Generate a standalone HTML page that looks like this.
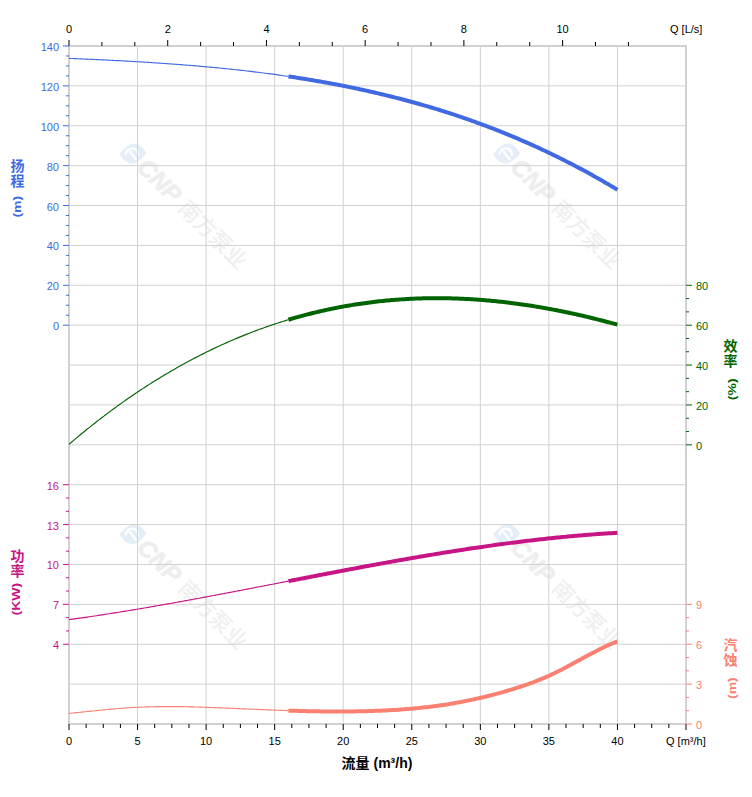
<!DOCTYPE html>
<html lang="zh"><head><meta charset="utf-8"><title>Pump curve</title><style>html,body{margin:0;padding:0;background:#fff}svg{display:block}</style></head><body>
<svg width="752" height="797" viewBox="0 0 752 797" font-family="Liberation Sans, Noto Sans CJK SC, sans-serif">
<rect width="752" height="797" fill="#fff"/>
<g transform="translate(133,153.6)"><path d="M-13.5 0.3 Q-5 -10 1 -10 Q8 -10 13.5 -0.3 Q5 10 -1 10 Q-8 10 -13.5 0.3Z" fill="#E4EEF8"/><path d="M-7.2 0.2 C-6 -6.5 4.5 -8 5.2 1.2 M-3 -1.8 L2.9 5.4" fill="none" stroke="#fff" stroke-width="2.4" stroke-linecap="round"/><g transform="rotate(45)"><text x="12.5" y="8.6" font-size="24" font-weight="bold" font-style="italic" fill="#EEEEEE" stroke="#EEEEEE" stroke-width="0.7" stroke-linejoin="round">CNP</text><text x="70.4" y="8.2" font-size="21.6" fill="#EFEFEF" font-weight="500">南方泵业</text></g></g>
<g transform="translate(506.6,153.6)"><path d="M-13.5 0.3 Q-5 -10 1 -10 Q8 -10 13.5 -0.3 Q5 10 -1 10 Q-8 10 -13.5 0.3Z" fill="#E4EEF8"/><path d="M-7.2 0.2 C-6 -6.5 4.5 -8 5.2 1.2 M-3 -1.8 L2.9 5.4" fill="none" stroke="#fff" stroke-width="2.4" stroke-linecap="round"/><g transform="rotate(45)"><text x="12.5" y="8.6" font-size="24" font-weight="bold" font-style="italic" fill="#EEEEEE" stroke="#EEEEEE" stroke-width="0.7" stroke-linejoin="round">CNP</text><text x="70.4" y="8.2" font-size="21.6" fill="#EFEFEF" font-weight="500">南方泵业</text></g></g>
<g transform="translate(133,534)"><path d="M-13.5 0.3 Q-5 -10 1 -10 Q8 -10 13.5 -0.3 Q5 10 -1 10 Q-8 10 -13.5 0.3Z" fill="#E4EEF8"/><path d="M-7.2 0.2 C-6 -6.5 4.5 -8 5.2 1.2 M-3 -1.8 L2.9 5.4" fill="none" stroke="#fff" stroke-width="2.4" stroke-linecap="round"/><g transform="rotate(45)"><text x="12.5" y="8.6" font-size="24" font-weight="bold" font-style="italic" fill="#EEEEEE" stroke="#EEEEEE" stroke-width="0.7" stroke-linejoin="round">CNP</text><text x="70.4" y="8.2" font-size="21.6" fill="#EFEFEF" font-weight="500">南方泵业</text></g></g>
<g transform="translate(506.6,534)"><path d="M-13.5 0.3 Q-5 -10 1 -10 Q8 -10 13.5 -0.3 Q5 10 -1 10 Q-8 10 -13.5 0.3Z" fill="#E4EEF8"/><path d="M-7.2 0.2 C-6 -6.5 4.5 -8 5.2 1.2 M-3 -1.8 L2.9 5.4" fill="none" stroke="#fff" stroke-width="2.4" stroke-linecap="round"/><g transform="rotate(45)"><text x="12.5" y="8.6" font-size="24" font-weight="bold" font-style="italic" fill="#EEEEEE" stroke="#EEEEEE" stroke-width="0.7" stroke-linejoin="round">CNP</text><text x="70.4" y="8.2" font-size="21.6" fill="#EFEFEF" font-weight="500">南方泵业</text></g></g>
<g stroke="#D1D1D1" stroke-width="1">
<line x1="137.56" y1="46.0" x2="137.56" y2="724.0"/>
<line x1="206.11" y1="46.0" x2="206.11" y2="724.0"/>
<line x1="274.67" y1="46.0" x2="274.67" y2="724.0"/>
<line x1="343.22" y1="46.0" x2="343.22" y2="724.0"/>
<line x1="411.78" y1="46.0" x2="411.78" y2="724.0"/>
<line x1="480.33" y1="46.0" x2="480.33" y2="724.0"/>
<line x1="548.89" y1="46.0" x2="548.89" y2="724.0"/>
<line x1="617.44" y1="46.0" x2="617.44" y2="724.0"/>
<line x1="69.0" y1="85.88" x2="686.0" y2="85.88"/>
<line x1="69.0" y1="125.76" x2="686.0" y2="125.76"/>
<line x1="69.0" y1="165.65" x2="686.0" y2="165.65"/>
<line x1="69.0" y1="205.53" x2="686.0" y2="205.53"/>
<line x1="69.0" y1="245.41" x2="686.0" y2="245.41"/>
<line x1="69.0" y1="285.29" x2="686.0" y2="285.29"/>
<line x1="69.0" y1="325.18" x2="686.0" y2="325.18"/>
<line x1="69.0" y1="365.06" x2="686.0" y2="365.06"/>
<line x1="69.0" y1="404.94" x2="686.0" y2="404.94"/>
<line x1="69.0" y1="444.82" x2="686.0" y2="444.82"/>
<line x1="69.0" y1="484.71" x2="686.0" y2="484.71"/>
<line x1="69.0" y1="524.59" x2="686.0" y2="524.59"/>
<line x1="69.0" y1="564.47" x2="686.0" y2="564.47"/>
<line x1="69.0" y1="604.35" x2="686.0" y2="604.35"/>
<line x1="69.0" y1="644.24" x2="686.0" y2="644.24"/>
<line x1="69.0" y1="684.12" x2="686.0" y2="684.12"/>
</g>
<rect x="69.0" y="46.0" width="617.0" height="678.0" fill="none" stroke="#D1D1D1" stroke-width="2" shape-rendering="crispEdges"/>
<path d="M69.0 713.41 L70.8 713.23 L72.7 713.05 L74.5 712.86 L76.3 712.68 L78.2 712.49 L80.0 712.30 L81.8 712.11 L83.7 711.92 L85.5 711.73 L87.3 711.54 L89.2 711.35 L91.0 711.16 L92.8 710.98 L94.7 710.79 L96.5 710.60 L98.3 710.42 L100.2 710.24 L102.0 710.05 L103.9 709.88 L105.7 709.70 L107.5 709.53 L109.4 709.35 L111.2 709.19 L113.0 709.02 L114.9 708.86 L116.7 708.70 L118.5 708.55 L120.4 708.40 L122.2 708.26 L124.0 708.12 L125.9 707.99 L127.7 707.86 L129.5 707.73 L131.4 707.62 L133.2 707.50 L135.0 707.40 L136.9 707.30 L138.7 707.21 L140.5 707.12 L142.4 707.04 L144.2 706.97 L146.0 706.91 L147.9 706.85 L149.7 706.79 L151.5 706.74 L153.4 706.70 L155.2 706.67 L157.0 706.64 L158.9 706.61 L160.7 706.59 L162.5 706.57 L164.4 706.56 L166.2 706.56 L168.1 706.56 L169.9 706.56 L171.7 706.57 L173.6 706.58 L175.4 706.59 L177.2 706.61 L179.1 706.64 L180.9 706.66 L182.7 706.69 L184.6 706.73 L186.4 706.76 L188.2 706.80 L190.1 706.85 L191.9 706.89 L193.7 706.94 L195.6 706.99 L197.4 707.04 L199.2 707.10 L201.1 707.16 L202.9 707.21 L204.7 707.28 L206.6 707.34 L208.4 707.40 L210.2 707.47 L212.1 707.53 L213.9 707.60 L215.7 707.67 L217.6 707.74 L219.4 707.81 L221.2 707.88 L223.1 707.96 L224.9 708.03 L226.7 708.11 L228.6 708.18 L230.4 708.26 L232.2 708.34 L234.1 708.41 L235.9 708.49 L237.8 708.57 L239.6 708.65 L241.4 708.73 L243.3 708.81 L245.1 708.89 L246.9 708.96 L248.8 709.04 L250.6 709.12 L252.4 709.20 L254.3 709.28 L256.1 709.36 L257.9 709.44 L259.8 709.51 L261.6 709.59 L263.4 709.67 L265.3 709.74 L267.1 709.82 L268.9 709.89 L270.8 709.97 L272.6 710.04 L274.4 710.11 L276.3 710.18 L278.1 710.25 L279.9 710.32 L281.8 710.39 L283.6 710.45 L285.4 710.51 L287.3 710.58 L288.4 710.61" fill="none" stroke="#FA8072" stroke-width="1.15"/>
<path d="M288.4 710.61 L289.1 710.64 L290.9 710.70 L292.8 710.76 L294.6 710.81 L296.4 710.87 L298.3 710.92 L300.1 710.97 L302.0 711.02 L303.8 711.06 L305.6 711.11 L307.5 711.15 L309.3 711.19 L311.1 711.23 L313.0 711.27 L314.8 711.30 L316.6 711.33 L318.5 711.36 L320.3 711.39 L322.1 711.42 L324.0 711.44 L325.8 711.46 L327.6 711.48 L329.5 711.49 L331.3 711.50 L333.1 711.51 L335.0 711.52 L336.8 711.52 L338.6 711.52 L340.5 711.52 L342.3 711.52 L344.1 711.51 L346.0 711.50 L347.8 711.48 L349.6 711.47 L351.5 711.45 L353.3 711.42 L355.1 711.40 L357.0 711.37 L358.8 711.33 L360.6 711.30 L362.5 711.26 L364.3 711.21 L366.2 711.17 L368.0 711.11 L369.8 711.06 L371.7 711.00 L373.5 710.94 L375.3 710.87 L377.2 710.81 L379.0 710.73 L380.8 710.65 L382.7 710.57 L384.5 710.49 L386.3 710.40 L388.2 710.30 L390.0 710.21 L391.8 710.10 L393.7 709.99 L395.5 709.88 L397.3 709.76 L399.2 709.64 L401.0 709.51 L402.8 709.38 L404.7 709.24 L406.5 709.10 L408.3 708.95 L410.2 708.80 L412.0 708.64 L413.8 708.47 L415.7 708.30 L417.5 708.12 L419.3 707.94 L421.2 707.75 L423.0 707.56 L424.8 707.36 L426.7 707.15 L428.5 706.93 L430.3 706.71 L432.2 706.48 L434.0 706.25 L435.9 706.01 L437.7 705.76 L439.5 705.50 L441.4 705.24 L443.2 704.97 L445.0 704.69 L446.9 704.41 L448.7 704.12 L450.5 703.82 L452.4 703.51 L454.2 703.19 L456.0 702.87 L457.9 702.54 L459.7 702.20 L461.5 701.86 L463.4 701.51 L465.2 701.15 L467.0 700.78 L468.9 700.40 L470.7 700.02 L472.5 699.63 L474.4 699.23 L476.2 698.82 L478.0 698.41 L479.9 697.99 L481.7 697.56 L483.5 697.12 L485.4 696.68 L487.2 696.23 L489.0 695.77 L490.9 695.30 L492.7 694.82 L494.5 694.34 L496.4 693.85 L498.2 693.35 L500.1 692.85 L501.9 692.33 L503.7 691.81 L505.6 691.28 L507.4 690.74 L509.2 690.20 L511.1 689.65 L512.9 689.09 L514.7 688.52 L516.6 687.94 L518.4 687.36 L520.2 686.76 L522.1 686.16 L523.9 685.54 L525.7 684.92 L527.6 684.28 L529.4 683.63 L531.2 682.97 L533.1 682.29 L534.9 681.60 L536.7 680.90 L538.6 680.18 L540.4 679.44 L542.2 678.69 L544.1 677.91 L545.9 677.12 L547.7 676.31 L549.6 675.49 L551.4 674.64 L553.2 673.77 L555.1 672.89 L556.9 671.99 L558.7 671.07 L560.6 670.15 L562.4 669.21 L564.3 668.25 L566.1 667.29 L567.9 666.32 L569.8 665.34 L571.6 664.35 L573.4 663.36 L575.3 662.36 L577.1 661.36 L578.9 660.36 L580.8 659.36 L582.6 658.35 L584.4 657.35 L586.3 656.35 L588.1 655.36 L589.9 654.37 L591.8 653.39 L593.6 652.42 L595.4 651.45 L597.3 650.51 L599.1 649.57 L600.9 648.66 L602.8 647.76 L604.6 646.88 L606.4 646.02 L608.3 645.19 L610.1 644.38 L611.9 643.59 L613.8 642.84 L615.6 642.11 L617.4 641.42" fill="none" stroke="#FA8072" stroke-width="4"/>
<path d="M69.0 619.68 L70.8 619.43 L72.7 619.18 L74.5 618.92 L76.3 618.66 L78.2 618.40 L80.0 618.14 L81.8 617.87 L83.7 617.61 L85.5 617.34 L87.3 617.07 L89.2 616.80 L91.0 616.53 L92.8 616.26 L94.7 615.98 L96.5 615.71 L98.3 615.43 L100.2 615.15 L102.0 614.87 L103.9 614.58 L105.7 614.30 L107.5 614.01 L109.4 613.73 L111.2 613.44 L113.0 613.15 L114.9 612.86 L116.7 612.56 L118.5 612.27 L120.4 611.98 L122.2 611.68 L124.0 611.38 L125.9 611.08 L127.7 610.78 L129.5 610.48 L131.4 610.17 L133.2 609.87 L135.0 609.56 L136.9 609.26 L138.7 608.95 L140.5 608.64 L142.4 608.33 L144.2 608.02 L146.0 607.70 L147.9 607.39 L149.7 607.07 L151.5 606.76 L153.4 606.44 L155.2 606.12 L157.0 605.80 L158.9 605.48 L160.7 605.16 L162.5 604.84 L164.4 604.51 L166.2 604.19 L168.1 603.86 L169.9 603.54 L171.7 603.21 L173.6 602.88 L175.4 602.55 L177.2 602.22 L179.1 601.89 L180.9 601.56 L182.7 601.23 L184.6 600.89 L186.4 600.56 L188.2 600.22 L190.1 599.89 L191.9 599.55 L193.7 599.21 L195.6 598.88 L197.4 598.54 L199.2 598.20 L201.1 597.86 L202.9 597.52 L204.7 597.17 L206.6 596.83 L208.4 596.49 L210.2 596.15 L212.1 595.80 L213.9 595.46 L215.7 595.11 L217.6 594.77 L219.4 594.42 L221.2 594.07 L223.1 593.73 L224.9 593.38 L226.7 593.03 L228.6 592.68 L230.4 592.33 L232.2 591.98 L234.1 591.63 L235.9 591.28 L237.8 590.93 L239.6 590.58 L241.4 590.23 L243.3 589.87 L245.1 589.52 L246.9 589.17 L248.8 588.82 L250.6 588.46 L252.4 588.11 L254.3 587.76 L256.1 587.40 L257.9 587.05 L259.8 586.69 L261.6 586.34 L263.4 585.98 L265.3 585.63 L267.1 585.27 L268.9 584.92 L270.8 584.56 L272.6 584.21 L274.4 583.85 L276.3 583.50 L278.1 583.14 L279.9 582.79 L281.8 582.43 L283.6 582.08 L285.4 581.72 L287.3 581.36 L288.4 581.15" fill="none" stroke="#C71585" stroke-width="1.15"/>
<path d="M288.4 581.15 L289.1 581.01 L290.9 580.65 L292.8 580.30 L294.6 579.94 L296.4 579.59 L298.3 579.23 L300.1 578.88 L302.0 578.52 L303.8 578.17 L305.6 577.81 L307.5 577.46 L309.3 577.10 L311.1 576.75 L313.0 576.40 L314.8 576.04 L316.6 575.69 L318.5 575.34 L320.3 574.98 L322.1 574.63 L324.0 574.28 L325.8 573.93 L327.6 573.58 L329.5 573.23 L331.3 572.88 L333.1 572.53 L335.0 572.18 L336.8 571.83 L338.6 571.48 L340.5 571.13 L342.3 570.78 L344.1 570.44 L346.0 570.09 L347.8 569.74 L349.6 569.40 L351.5 569.05 L353.3 568.71 L355.1 568.36 L357.0 568.02 L358.8 567.68 L360.6 567.34 L362.5 566.99 L364.3 566.65 L366.2 566.31 L368.0 565.97 L369.8 565.63 L371.7 565.30 L373.5 564.96 L375.3 564.62 L377.2 564.29 L379.0 563.95 L380.8 563.62 L382.7 563.28 L384.5 562.95 L386.3 562.62 L388.2 562.29 L390.0 561.96 L391.8 561.63 L393.7 561.30 L395.5 560.98 L397.3 560.65 L399.2 560.32 L401.0 560.00 L402.8 559.68 L404.7 559.35 L406.5 559.03 L408.3 558.71 L410.2 558.39 L412.0 558.08 L413.8 557.76 L415.7 557.44 L417.5 557.13 L419.3 556.81 L421.2 556.50 L423.0 556.19 L424.8 555.88 L426.7 555.57 L428.5 555.26 L430.3 554.96 L432.2 554.65 L434.0 554.35 L435.9 554.04 L437.7 553.74 L439.5 553.44 L441.4 553.14 L443.2 552.84 L445.0 552.55 L446.9 552.25 L448.7 551.96 L450.5 551.67 L452.4 551.37 L454.2 551.09 L456.0 550.80 L457.9 550.51 L459.7 550.23 L461.5 549.94 L463.4 549.66 L465.2 549.38 L467.0 549.10 L468.9 548.82 L470.7 548.55 L472.5 548.27 L474.4 548.00 L476.2 547.73 L478.0 547.46 L479.9 547.19 L481.7 546.92 L483.5 546.66 L485.4 546.39 L487.2 546.13 L489.0 545.87 L490.9 545.61 L492.7 545.36 L494.5 545.10 L496.4 544.85 L498.2 544.60 L500.1 544.35 L501.9 544.10 L503.7 543.86 L505.6 543.61 L507.4 543.37 L509.2 543.13 L511.1 542.89 L512.9 542.66 L514.7 542.42 L516.6 542.19 L518.4 541.96 L520.2 541.73 L522.1 541.50 L523.9 541.28 L525.7 541.06 L527.6 540.84 L529.4 540.62 L531.2 540.40 L533.1 540.19 L534.9 539.97 L536.7 539.76 L538.6 539.55 L540.4 539.35 L542.2 539.14 L544.1 538.94 L545.9 538.74 L547.7 538.55 L549.6 538.35 L551.4 538.16 L553.2 537.97 L555.1 537.78 L556.9 537.59 L558.7 537.41 L560.6 537.23 L562.4 537.05 L564.3 536.87 L566.1 536.70 L567.9 536.52 L569.8 536.35 L571.6 536.19 L573.4 536.02 L575.3 535.86 L577.1 535.70 L578.9 535.54 L580.8 535.39 L582.6 535.23 L584.4 535.08 L586.3 534.93 L588.1 534.79 L589.9 534.65 L591.8 534.51 L593.6 534.37 L595.4 534.23 L597.3 534.10 L599.1 533.97 L600.9 533.84 L602.8 533.72 L604.6 533.60 L606.4 533.48 L608.3 533.36 L610.1 533.25 L611.9 533.14 L613.8 533.03 L615.6 532.92 L617.4 532.82" fill="none" stroke="#C71585" stroke-width="4"/>
<path d="M69.0 444.31 L70.8 442.74 L72.7 441.18 L74.5 439.64 L76.3 438.10 L78.2 436.57 L80.0 435.05 L81.8 433.54 L83.7 432.04 L85.5 430.54 L87.3 429.06 L89.2 427.59 L91.0 426.13 L92.8 424.67 L94.7 423.23 L96.5 421.79 L98.3 420.36 L100.2 418.95 L102.0 417.54 L103.9 416.14 L105.7 414.75 L107.5 413.37 L109.4 412.00 L111.2 410.64 L113.0 409.29 L114.9 407.94 L116.7 406.61 L118.5 405.28 L120.4 403.97 L122.2 402.66 L124.0 401.36 L125.9 400.07 L127.7 398.79 L129.5 397.52 L131.4 396.26 L133.2 395.01 L135.0 393.76 L136.9 392.53 L138.7 391.30 L140.5 390.08 L142.4 388.88 L144.2 387.68 L146.0 386.49 L147.9 385.30 L149.7 384.13 L151.5 382.97 L153.4 381.81 L155.2 380.67 L157.0 379.53 L158.9 378.40 L160.7 377.28 L162.5 376.17 L164.4 375.06 L166.2 373.97 L168.1 372.88 L169.9 371.81 L171.7 370.74 L173.6 369.68 L175.4 368.63 L177.2 367.58 L179.1 366.55 L180.9 365.52 L182.7 364.51 L184.6 363.50 L186.4 362.50 L188.2 361.51 L190.1 360.52 L191.9 359.55 L193.7 358.58 L195.6 357.63 L197.4 356.68 L199.2 355.74 L201.1 354.80 L202.9 353.88 L204.7 352.96 L206.6 352.05 L208.4 351.15 L210.2 350.26 L212.1 349.38 L213.9 348.51 L215.7 347.64 L217.6 346.78 L219.4 345.93 L221.2 345.09 L223.1 344.25 L224.9 343.43 L226.7 342.61 L228.6 341.80 L230.4 341.00 L232.2 340.21 L234.1 339.42 L235.9 338.64 L237.8 337.88 L239.6 337.11 L241.4 336.36 L243.3 335.62 L245.1 334.88 L246.9 334.15 L248.8 333.43 L250.6 332.71 L252.4 332.01 L254.3 331.31 L256.1 330.62 L257.9 329.94 L259.8 329.26 L261.6 328.60 L263.4 327.94 L265.3 327.29 L267.1 326.64 L268.9 326.01 L270.8 325.38 L272.6 324.76 L274.4 324.14 L276.3 323.54 L278.1 322.94 L279.9 322.35 L281.8 321.77 L283.6 321.20 L285.4 320.63 L287.3 320.07 L288.4 319.74" fill="none" stroke="#006400" stroke-width="1.15"/>
<path d="M288.4 319.74 L289.1 319.52 L290.9 318.97 L292.8 318.44 L294.6 317.91 L296.4 317.38 L298.3 316.87 L300.1 316.36 L302.0 315.86 L303.8 315.37 L305.6 314.88 L307.5 314.41 L309.3 313.94 L311.1 313.47 L313.0 313.02 L314.8 312.57 L316.6 312.13 L318.5 311.69 L320.3 311.27 L322.1 310.85 L324.0 310.44 L325.8 310.03 L327.6 309.63 L329.5 309.24 L331.3 308.86 L333.1 308.48 L335.0 308.11 L336.8 307.75 L338.6 307.39 L340.5 307.05 L342.3 306.70 L344.1 306.37 L346.0 306.04 L347.8 305.72 L349.6 305.41 L351.5 305.10 L353.3 304.80 L355.1 304.51 L357.0 304.22 L358.8 303.95 L360.6 303.67 L362.5 303.41 L364.3 303.15 L366.2 302.90 L368.0 302.65 L369.8 302.41 L371.7 302.18 L373.5 301.96 L375.3 301.74 L377.2 301.53 L379.0 301.32 L380.8 301.13 L382.7 300.94 L384.5 300.75 L386.3 300.57 L388.2 300.40 L390.0 300.24 L391.8 300.08 L393.7 299.93 L395.5 299.78 L397.3 299.64 L399.2 299.51 L401.0 299.38 L402.8 299.26 L404.7 299.15 L406.5 299.04 L408.3 298.94 L410.2 298.85 L412.0 298.76 L413.8 298.68 L415.7 298.60 L417.5 298.53 L419.3 298.47 L421.2 298.42 L423.0 298.37 L424.8 298.32 L426.7 298.28 L428.5 298.25 L430.3 298.23 L432.2 298.21 L434.0 298.20 L435.9 298.19 L437.7 298.19 L439.5 298.19 L441.4 298.20 L443.2 298.22 L445.0 298.25 L446.9 298.27 L448.7 298.31 L450.5 298.35 L452.4 298.40 L454.2 298.45 L456.0 298.51 L457.9 298.58 L459.7 298.65 L461.5 298.72 L463.4 298.81 L465.2 298.89 L467.0 298.99 L468.9 299.09 L470.7 299.19 L472.5 299.31 L474.4 299.42 L476.2 299.55 L478.0 299.67 L479.9 299.81 L481.7 299.95 L483.5 300.09 L485.4 300.24 L487.2 300.40 L489.0 300.56 L490.9 300.73 L492.7 300.91 L494.5 301.08 L496.4 301.27 L498.2 301.46 L500.1 301.65 L501.9 301.85 L503.7 302.06 L505.6 302.27 L507.4 302.49 L509.2 302.71 L511.1 302.94 L512.9 303.17 L514.7 303.41 L516.6 303.66 L518.4 303.91 L520.2 304.16 L522.1 304.42 L523.9 304.68 L525.7 304.95 L527.6 305.23 L529.4 305.51 L531.2 305.80 L533.1 306.09 L534.9 306.38 L536.7 306.68 L538.6 306.99 L540.4 307.30 L542.2 307.62 L544.1 307.94 L545.9 308.26 L547.7 308.60 L549.6 308.93 L551.4 309.27 L553.2 309.62 L555.1 309.97 L556.9 310.33 L558.7 310.69 L560.6 311.05 L562.4 311.42 L564.3 311.80 L566.1 312.18 L567.9 312.56 L569.8 312.95 L571.6 313.35 L573.4 313.75 L575.3 314.15 L577.1 314.56 L578.9 314.97 L580.8 315.39 L582.6 315.81 L584.4 316.24 L586.3 316.67 L588.1 317.11 L589.9 317.55 L591.8 317.99 L593.6 318.44 L595.4 318.90 L597.3 319.36 L599.1 319.82 L600.9 320.29 L602.8 320.76 L604.6 321.24 L606.4 321.72 L608.3 322.21 L610.1 322.69 L611.9 323.19 L613.8 323.69 L615.6 324.19 L617.4 324.70" fill="none" stroke="#006400" stroke-width="4"/>
<path d="M69.0 58.38 L70.8 58.46 L72.7 58.53 L74.5 58.61 L76.3 58.69 L78.2 58.77 L80.0 58.85 L81.8 58.93 L83.7 59.01 L85.5 59.09 L87.3 59.17 L89.2 59.25 L91.0 59.33 L92.8 59.42 L94.7 59.50 L96.5 59.59 L98.3 59.67 L100.2 59.76 L102.0 59.85 L103.9 59.94 L105.7 60.03 L107.5 60.12 L109.4 60.21 L111.2 60.30 L113.0 60.39 L114.9 60.49 L116.7 60.58 L118.5 60.68 L120.4 60.77 L122.2 60.87 L124.0 60.97 L125.9 61.07 L127.7 61.17 L129.5 61.28 L131.4 61.38 L133.2 61.48 L135.0 61.59 L136.9 61.70 L138.7 61.80 L140.5 61.91 L142.4 62.02 L144.2 62.14 L146.0 62.25 L147.9 62.36 L149.7 62.48 L151.5 62.60 L153.4 62.71 L155.2 62.83 L157.0 62.96 L158.9 63.08 L160.7 63.20 L162.5 63.33 L164.4 63.45 L166.2 63.58 L168.1 63.71 L169.9 63.84 L171.7 63.98 L173.6 64.11 L175.4 64.25 L177.2 64.38 L179.1 64.52 L180.9 64.66 L182.7 64.81 L184.6 64.95 L186.4 65.09 L188.2 65.24 L190.1 65.39 L191.9 65.54 L193.7 65.69 L195.6 65.85 L197.4 66.00 L199.2 66.16 L201.1 66.32 L202.9 66.48 L204.7 66.65 L206.6 66.81 L208.4 66.98 L210.2 67.15 L212.1 67.32 L213.9 67.49 L215.7 67.67 L217.6 67.85 L219.4 68.02 L221.2 68.21 L223.1 68.39 L224.9 68.57 L226.7 68.76 L228.6 68.95 L230.4 69.14 L232.2 69.34 L234.1 69.53 L235.9 69.73 L237.8 69.93 L239.6 70.13 L241.4 70.34 L243.3 70.54 L245.1 70.75 L246.9 70.97 L248.8 71.18 L250.6 71.40 L252.4 71.62 L254.3 71.84 L256.1 72.06 L257.9 72.29 L259.8 72.51 L261.6 72.74 L263.4 72.98 L265.3 73.21 L267.1 73.45 L268.9 73.69 L270.8 73.94 L272.6 74.18 L274.4 74.43 L276.3 74.68 L278.1 74.94 L279.9 75.19 L281.8 75.45 L283.6 75.71 L285.4 75.98 L287.3 76.25 L288.4 76.41" fill="none" stroke="#4169E1" stroke-width="1.15"/>
<path d="M288.4 76.41 L289.1 76.52 L290.9 76.79 L292.8 77.07 L294.6 77.34 L296.4 77.63 L298.3 77.91 L300.1 78.20 L302.0 78.49 L303.8 78.78 L305.6 79.08 L307.5 79.38 L309.3 79.68 L311.1 79.98 L313.0 80.29 L314.8 80.60 L316.6 80.92 L318.5 81.23 L320.3 81.55 L322.1 81.88 L324.0 82.20 L325.8 82.53 L327.6 82.87 L329.5 83.20 L331.3 83.54 L333.1 83.88 L335.0 84.23 L336.8 84.58 L338.6 84.93 L340.5 85.29 L342.3 85.65 L344.1 86.01 L346.0 86.37 L347.8 86.74 L349.6 87.12 L351.5 87.49 L353.3 87.87 L355.1 88.26 L357.0 88.64 L358.8 89.03 L360.6 89.43 L362.5 89.82 L364.3 90.23 L366.2 90.63 L368.0 91.04 L369.8 91.45 L371.7 91.87 L373.5 92.29 L375.3 92.71 L377.2 93.13 L379.0 93.57 L380.8 94.00 L382.7 94.44 L384.5 94.88 L386.3 95.33 L388.2 95.78 L390.0 96.23 L391.8 96.69 L393.7 97.15 L395.5 97.61 L397.3 98.08 L399.2 98.56 L401.0 99.03 L402.8 99.52 L404.7 100.00 L406.5 100.49 L408.3 100.98 L410.2 101.48 L412.0 101.98 L413.8 102.49 L415.7 103.00 L417.5 103.52 L419.3 104.03 L421.2 104.56 L423.0 105.09 L424.8 105.62 L426.7 106.15 L428.5 106.69 L430.3 107.24 L432.2 107.79 L434.0 108.34 L435.9 108.90 L437.7 109.46 L439.5 110.03 L441.4 110.60 L443.2 111.18 L445.0 111.76 L446.9 112.34 L448.7 112.93 L450.5 113.52 L452.4 114.12 L454.2 114.73 L456.0 115.34 L457.9 115.95 L459.7 116.57 L461.5 117.19 L463.4 117.82 L465.2 118.45 L467.0 119.08 L468.9 119.73 L470.7 120.37 L472.5 121.02 L474.4 121.68 L476.2 122.34 L478.0 123.01 L479.9 123.68 L481.7 124.35 L483.5 125.03 L485.4 125.72 L487.2 126.41 L489.0 127.11 L490.9 127.81 L492.7 128.51 L494.5 129.22 L496.4 129.94 L498.2 130.66 L500.1 131.39 L501.9 132.12 L503.7 132.86 L505.6 133.60 L507.4 134.35 L509.2 135.10 L511.1 135.86 L512.9 136.63 L514.7 137.39 L516.6 138.17 L518.4 138.95 L520.2 139.74 L522.1 140.53 L523.9 141.32 L525.7 142.12 L527.6 142.93 L529.4 143.75 L531.2 144.56 L533.1 145.39 L534.9 146.22 L536.7 147.05 L538.6 147.90 L540.4 148.74 L542.2 149.60 L544.1 150.45 L545.9 151.32 L547.7 152.19 L549.6 153.06 L551.4 153.95 L553.2 154.83 L555.1 155.73 L556.9 156.63 L558.7 157.53 L560.6 158.44 L562.4 159.36 L564.3 160.28 L566.1 161.21 L567.9 162.15 L569.8 163.09 L571.6 164.04 L573.4 164.99 L575.3 165.95 L577.1 166.92 L578.9 167.89 L580.8 168.87 L582.6 169.85 L584.4 170.84 L586.3 171.84 L588.1 172.84 L589.9 173.85 L591.8 174.87 L593.6 175.89 L595.4 176.92 L597.3 177.95 L599.1 179.00 L600.9 180.04 L602.8 181.10 L604.6 182.16 L606.4 183.23 L608.3 184.30 L610.1 185.38 L611.9 186.47 L613.8 187.56 L615.6 188.66 L617.4 189.77" fill="none" stroke="#4169E1" stroke-width="4"/>
<g stroke="#000" fill="none">
<line x1="69.00" y1="40" x2="69.00" y2="46" stroke-width="1"/>
<line x1="101.91" y1="42" x2="101.91" y2="46" stroke-width="1"/>
<line x1="134.81" y1="42" x2="134.81" y2="46" stroke-width="1"/>
<line x1="167.72" y1="40" x2="167.72" y2="46" stroke-width="1"/>
<line x1="200.63" y1="42" x2="200.63" y2="46" stroke-width="1"/>
<line x1="233.53" y1="42" x2="233.53" y2="46" stroke-width="1"/>
<line x1="266.44" y1="40" x2="266.44" y2="46" stroke-width="1"/>
<line x1="299.35" y1="42" x2="299.35" y2="46" stroke-width="1"/>
<line x1="332.25" y1="42" x2="332.25" y2="46" stroke-width="1"/>
<line x1="365.16" y1="40" x2="365.16" y2="46" stroke-width="1"/>
<line x1="398.07" y1="42" x2="398.07" y2="46" stroke-width="1"/>
<line x1="430.97" y1="42" x2="430.97" y2="46" stroke-width="1"/>
<line x1="463.88" y1="40" x2="463.88" y2="46" stroke-width="1"/>
<line x1="496.79" y1="42" x2="496.79" y2="46" stroke-width="1"/>
<line x1="529.69" y1="42" x2="529.69" y2="46" stroke-width="1"/>
<line x1="562.60" y1="40" x2="562.60" y2="46" stroke-width="1"/>
<line x1="595.51" y1="42" x2="595.51" y2="46" stroke-width="1"/>
<line x1="628.41" y1="42" x2="628.41" y2="46" stroke-width="1"/>
<line x1="69.00" y1="724" x2="69.00" y2="730" stroke-width="1"/>
<line x1="86.14" y1="724" x2="86.14" y2="728" stroke-width="1"/>
<line x1="103.28" y1="724" x2="103.28" y2="728" stroke-width="1"/>
<line x1="120.42" y1="724" x2="120.42" y2="728" stroke-width="1"/>
<line x1="137.56" y1="724" x2="137.56" y2="730" stroke-width="1"/>
<line x1="154.69" y1="724" x2="154.69" y2="728" stroke-width="1"/>
<line x1="171.83" y1="724" x2="171.83" y2="728" stroke-width="1"/>
<line x1="188.97" y1="724" x2="188.97" y2="728" stroke-width="1"/>
<line x1="206.11" y1="724" x2="206.11" y2="730" stroke-width="1"/>
<line x1="223.25" y1="724" x2="223.25" y2="728" stroke-width="1"/>
<line x1="240.39" y1="724" x2="240.39" y2="728" stroke-width="1"/>
<line x1="257.53" y1="724" x2="257.53" y2="728" stroke-width="1"/>
<line x1="274.67" y1="724" x2="274.67" y2="730" stroke-width="1"/>
<line x1="291.81" y1="724" x2="291.81" y2="728" stroke-width="1"/>
<line x1="308.94" y1="724" x2="308.94" y2="728" stroke-width="1"/>
<line x1="326.08" y1="724" x2="326.08" y2="728" stroke-width="1"/>
<line x1="343.22" y1="724" x2="343.22" y2="730" stroke-width="1"/>
<line x1="360.36" y1="724" x2="360.36" y2="728" stroke-width="1"/>
<line x1="377.50" y1="724" x2="377.50" y2="728" stroke-width="1"/>
<line x1="394.64" y1="724" x2="394.64" y2="728" stroke-width="1"/>
<line x1="411.78" y1="724" x2="411.78" y2="730" stroke-width="1"/>
<line x1="428.92" y1="724" x2="428.92" y2="728" stroke-width="1"/>
<line x1="446.06" y1="724" x2="446.06" y2="728" stroke-width="1"/>
<line x1="463.19" y1="724" x2="463.19" y2="728" stroke-width="1"/>
<line x1="480.33" y1="724" x2="480.33" y2="730" stroke-width="1"/>
<line x1="497.47" y1="724" x2="497.47" y2="728" stroke-width="1"/>
<line x1="514.61" y1="724" x2="514.61" y2="728" stroke-width="1"/>
<line x1="531.75" y1="724" x2="531.75" y2="728" stroke-width="1"/>
<line x1="548.89" y1="724" x2="548.89" y2="730" stroke-width="1"/>
<line x1="566.03" y1="724" x2="566.03" y2="728" stroke-width="1"/>
<line x1="583.17" y1="724" x2="583.17" y2="728" stroke-width="1"/>
<line x1="600.31" y1="724" x2="600.31" y2="728" stroke-width="1"/>
<line x1="617.44" y1="724" x2="617.44" y2="730" stroke-width="1"/>
<line x1="634.58" y1="724" x2="634.58" y2="728" stroke-width="1"/>
<line x1="651.72" y1="724" x2="651.72" y2="728" stroke-width="1"/>
<line x1="668.86" y1="724" x2="668.86" y2="728" stroke-width="1"/>
<line x1="686.00" y1="724" x2="686.00" y2="730" stroke-width="1"/>
</g>
<g font-size="11" fill="#000" text-anchor="middle">
<text x="69.00" y="33">0</text>
<text x="167.72" y="33">2</text>
<text x="266.44" y="33">4</text>
<text x="365.16" y="33">6</text>
<text x="463.88" y="33">8</text>
<text x="562.60" y="33">10</text>
<text x="69.00" y="745">0</text>
<text x="137.56" y="745">5</text>
<text x="206.11" y="745">10</text>
<text x="274.67" y="745">15</text>
<text x="343.22" y="745">20</text>
<text x="411.78" y="745">25</text>
<text x="480.33" y="745">30</text>
<text x="548.89" y="745">35</text>
<text x="617.44" y="745">40</text>
</g>
<text x="670" y="33" font-size="11" fill="#000">Q [L/s]</text>
<text x="666" y="745" font-size="11" fill="#000">Q [m³/h]</text>
<g stroke="#4169E1" fill="none">
<line x1="63" y1="46.00" x2="69" y2="46.00" stroke-width="1"/>
<line x1="66" y1="55.97" x2="69" y2="55.97" stroke-width="1"/>
<line x1="66" y1="65.94" x2="69" y2="65.94" stroke-width="1"/>
<line x1="66" y1="75.91" x2="69" y2="75.91" stroke-width="1"/>
<line x1="63" y1="85.88" x2="69" y2="85.88" stroke-width="1"/>
<line x1="66" y1="95.85" x2="69" y2="95.85" stroke-width="1"/>
<line x1="66" y1="105.82" x2="69" y2="105.82" stroke-width="1"/>
<line x1="66" y1="115.79" x2="69" y2="115.79" stroke-width="1"/>
<line x1="63" y1="125.76" x2="69" y2="125.76" stroke-width="1"/>
<line x1="66" y1="135.74" x2="69" y2="135.74" stroke-width="1"/>
<line x1="66" y1="145.71" x2="69" y2="145.71" stroke-width="1"/>
<line x1="66" y1="155.68" x2="69" y2="155.68" stroke-width="1"/>
<line x1="63" y1="165.65" x2="69" y2="165.65" stroke-width="1"/>
<line x1="66" y1="175.62" x2="69" y2="175.62" stroke-width="1"/>
<line x1="66" y1="185.59" x2="69" y2="185.59" stroke-width="1"/>
<line x1="66" y1="195.56" x2="69" y2="195.56" stroke-width="1"/>
<line x1="63" y1="205.53" x2="69" y2="205.53" stroke-width="1"/>
<line x1="66" y1="215.50" x2="69" y2="215.50" stroke-width="1"/>
<line x1="66" y1="225.47" x2="69" y2="225.47" stroke-width="1"/>
<line x1="66" y1="235.44" x2="69" y2="235.44" stroke-width="1"/>
<line x1="63" y1="245.41" x2="69" y2="245.41" stroke-width="1"/>
<line x1="66" y1="255.38" x2="69" y2="255.38" stroke-width="1"/>
<line x1="66" y1="265.35" x2="69" y2="265.35" stroke-width="1"/>
<line x1="66" y1="275.32" x2="69" y2="275.32" stroke-width="1"/>
<line x1="63" y1="285.29" x2="69" y2="285.29" stroke-width="1"/>
<line x1="66" y1="295.26" x2="69" y2="295.26" stroke-width="1"/>
<line x1="66" y1="305.24" x2="69" y2="305.24" stroke-width="1"/>
<line x1="66" y1="315.21" x2="69" y2="315.21" stroke-width="1"/>
<line x1="63" y1="325.18" x2="69" y2="325.18" stroke-width="1"/>
</g>
<g font-size="11" fill="#4169E1" text-anchor="end">
<text x="59" y="50.80">140</text>
<text x="59" y="90.80">120</text>
<text x="59" y="130.80">100</text>
<text x="59" y="170.80">80</text>
<text x="59" y="210.80">60</text>
<text x="59" y="249.80">40</text>
<text x="59" y="289.80">20</text>
<text x="59" y="329.80">0</text>
</g>
<g stroke="#006400" fill="none">
<line x1="686" y1="285.29" x2="692" y2="285.29" stroke-width="1"/>
<line x1="686" y1="298.59" x2="689" y2="298.59" stroke-width="1"/>
<line x1="686" y1="311.88" x2="689" y2="311.88" stroke-width="1"/>
<line x1="686" y1="325.18" x2="692" y2="325.18" stroke-width="1"/>
<line x1="686" y1="338.47" x2="689" y2="338.47" stroke-width="1"/>
<line x1="686" y1="351.76" x2="689" y2="351.76" stroke-width="1"/>
<line x1="686" y1="365.06" x2="692" y2="365.06" stroke-width="1"/>
<line x1="686" y1="378.35" x2="689" y2="378.35" stroke-width="1"/>
<line x1="686" y1="391.65" x2="689" y2="391.65" stroke-width="1"/>
<line x1="686" y1="404.94" x2="692" y2="404.94" stroke-width="1"/>
<line x1="686" y1="418.24" x2="689" y2="418.24" stroke-width="1"/>
<line x1="686" y1="431.53" x2="689" y2="431.53" stroke-width="1"/>
<line x1="686" y1="444.82" x2="692" y2="444.82" stroke-width="1"/>
</g>
<g font-size="11" fill="#006400" text-anchor="start">
<text x="696" y="289.80">80</text>
<text x="696" y="329.80">60</text>
<text x="696" y="369.80">40</text>
<text x="696" y="409.80">20</text>
<text x="696" y="449.80">0</text>
</g>
<g stroke="#C71585" fill="none">
<line x1="63" y1="484.71" x2="69" y2="484.71" stroke-width="1"/>
<line x1="66" y1="498.00" x2="69" y2="498.00" stroke-width="1"/>
<line x1="66" y1="511.29" x2="69" y2="511.29" stroke-width="1"/>
<line x1="63" y1="524.59" x2="69" y2="524.59" stroke-width="1"/>
<line x1="66" y1="537.88" x2="69" y2="537.88" stroke-width="1"/>
<line x1="66" y1="551.18" x2="69" y2="551.18" stroke-width="1"/>
<line x1="63" y1="564.47" x2="69" y2="564.47" stroke-width="1"/>
<line x1="66" y1="577.76" x2="69" y2="577.76" stroke-width="1"/>
<line x1="66" y1="591.06" x2="69" y2="591.06" stroke-width="1"/>
<line x1="63" y1="604.35" x2="69" y2="604.35" stroke-width="1"/>
<line x1="66" y1="617.65" x2="69" y2="617.65" stroke-width="1"/>
<line x1="66" y1="630.94" x2="69" y2="630.94" stroke-width="1"/>
<line x1="63" y1="644.24" x2="69" y2="644.24" stroke-width="1"/>
</g>
<g font-size="11" fill="#C71585" text-anchor="end">
<text x="59" y="489.80">16</text>
<text x="59" y="529.80">13</text>
<text x="59" y="568.80">10</text>
<text x="59" y="608.80">7</text>
<text x="59" y="648.80">4</text>
</g>
<g stroke="#FA8072" fill="none">
<line x1="686" y1="604.35" x2="692" y2="604.35" stroke-width="1"/>
<line x1="686" y1="617.65" x2="689" y2="617.65" stroke-width="1"/>
<line x1="686" y1="630.94" x2="689" y2="630.94" stroke-width="1"/>
<line x1="686" y1="644.24" x2="692" y2="644.24" stroke-width="1"/>
<line x1="686" y1="657.53" x2="689" y2="657.53" stroke-width="1"/>
<line x1="686" y1="670.82" x2="689" y2="670.82" stroke-width="1"/>
<line x1="686" y1="684.12" x2="692" y2="684.12" stroke-width="1"/>
<line x1="686" y1="697.41" x2="689" y2="697.41" stroke-width="1"/>
<line x1="686" y1="710.71" x2="689" y2="710.71" stroke-width="1"/>
<line x1="686" y1="724.00" x2="692" y2="724.00" stroke-width="1"/>
</g>
<g font-size="11" fill="#FA8072" text-anchor="start">
<text x="696" y="608.80">9</text>
<text x="696" y="648.80">6</text>
<text x="696" y="688.80">3</text>
<text x="696" y="728.80">0</text>
</g>
<g font-size="14" font-weight="bold" fill="#4169E1"><text x="16.5" y="158.7" style="writing-mode:vertical-rl;letter-spacing:1px">扬程</text><text transform="translate(20.6,217.6) rotate(-90) scale(1,0.84)" text-anchor="start">(m)</text></g>
<g font-size="14" font-weight="bold" fill="#C71585"><text x="16.5" y="548.7" style="writing-mode:vertical-rl;letter-spacing:1px">功率</text><text transform="translate(20.2,615.4) rotate(-90) scale(1,0.84)" text-anchor="start">(KW)</text></g>
<g font-size="14" font-weight="bold" fill="#006400"><text x="729.5" y="338.8" style="writing-mode:vertical-rl;letter-spacing:1px">效率</text><text transform="translate(736.3,400.2) rotate(-90) scale(1,0.84)" text-anchor="start">(%)</text></g>
<g font-size="14" font-weight="bold" fill="#FA8072"><text x="729.5" y="637.6" style="writing-mode:vertical-rl;letter-spacing:1px">汽蚀</text><text transform="translate(736.3,699.0) rotate(-90) scale(1,0.84)" text-anchor="start">(m)</text></g>
<text x="377" y="768" font-size="14" font-weight="bold" fill="#000" text-anchor="middle">流量 (m³/h)</text>
</svg>
</body></html>
